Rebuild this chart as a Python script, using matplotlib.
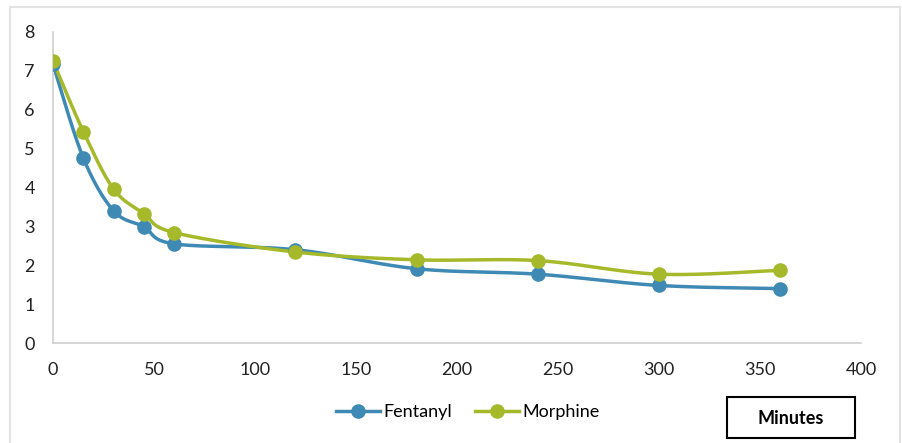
import numpy as np
import matplotlib.pyplot as plt
from matplotlib.patches import Rectangle

plt.rcParams['font.family'] = ['Lato', 'DejaVu Sans']

minutes = [0, 15, 30, 45, 60, 120, 180, 240, 300, 360]
fentanyl = [7.17, 4.76, 3.40, 2.99, 2.55, 2.40, 1.91, 1.77, 1.48, 1.40]
morphine = [7.25, 5.44, 3.96, 3.33, 2.84, 2.34, 2.14, 2.12, 1.77, 1.87]

x_ticks = [0, 50, 100, 150, 200, 250, 300, 350, 400]
y_ticks = [0, 1, 2, 3, 4, 5, 6, 7, 8]


def smooth(xs, ys, n=40):
    """Catmull-Rom style bezier smoothing (like Excel's smoothed line)"""
    xs = np.asarray(xs, float)
    ys = np.asarray(ys, float)
    px = np.concatenate([[xs[0]], xs, [xs[-1]]])
    py = np.concatenate([[ys[0]], ys, [ys[-1]]])
    out_x, out_y = [], []
    t = np.linspace(0, 1, n)
    for i in range(1, len(px) - 2):
        p0 = np.array([px[i], py[i]])
        p3 = np.array([px[i + 1], py[i + 1]])
        c1 = p0 + (np.array([px[i + 1], py[i + 1]]) - np.array([px[i - 1], py[i - 1]])) / 6
        c2 = p3 - (np.array([px[i + 2], py[i + 2]]) - np.array([px[i], py[i]])) / 6
        b = ((1 - t) ** 3)[:, None] * p0 + (3 * (1 - t) ** 2 * t)[:, None] * c1 \
            + (3 * (1 - t) * t ** 2)[:, None] * c2 + (t ** 3)[:, None] * p3
        out_x.extend(b[:, 0])
        out_y.extend(b[:, 1])
    return out_x, out_y


fig = plt.figure(figsize=(9.02, 4.43), dpi=100)
ax = fig.add_axes([53 / 902, 100 / 443, 808 / 902, 311 / 443])

blue = '#3f8ab5'
green = '#a5b92a'

for ys, col, name in [(fentanyl, blue, 'Fentanyl'), (morphine, green, 'Morphine')]:
    sx, sy = smooth(minutes, ys)
    ax.plot(sx, sy, color=col, linewidth=2.5, zorder=2)
    ax.plot(minutes, ys, 'o', color=col, markersize=9.5, zorder=3)
    ax.plot([], [], '-o', color=col, linewidth=2.5, markersize=9.5, label=name)

ax.set_xlim(0, 400)
ax.set_ylim(0, 8)
ax.set_xticks(x_ticks)
ax.set_yticks(y_ticks)
ax.tick_params(length=0, labelsize=13, colors='#222222')
ax.tick_params(axis='x', pad=14)
ax.tick_params(axis='y', pad=13)
for s in ['top', 'right']:
    ax.spines[s].set_visible(False)
for s in ['left', 'bottom']:
    ax.spines[s].set_color('#d0d0d0')
    ax.spines[s].set_linewidth(1.2)

fig.legend(loc='center', bbox_to_anchor=(468 / 902, 1 - 412 / 443), ncol=2,
           frameon=False, fontsize=13, handlelength=2.4, columnspacing=1.3,
           handletextpad=0.2)

# "Minutes" box
fig.patches.append(Rectangle((727 / 902, 5 / 443), 128 / 902, 41 / 443,
                             transform=fig.transFigure, fill=False,
                             edgecolor='black', linewidth=1.5))
fig.text(791 / 902, 1 - 418 / 443, 'Minutes', ha='center', va='center',
         fontsize=13, fontweight='bold')

# outer chart border
fig.patches.append(Rectangle((10 / 902, -0.01), 890 / 902, 1 - 7 / 443 + 0.01,
                             transform=fig.transFigure, fill=False,
                             edgecolor='#e3e3e3', linewidth=1.5))

fig.savefig('out.png', dpi=100)
